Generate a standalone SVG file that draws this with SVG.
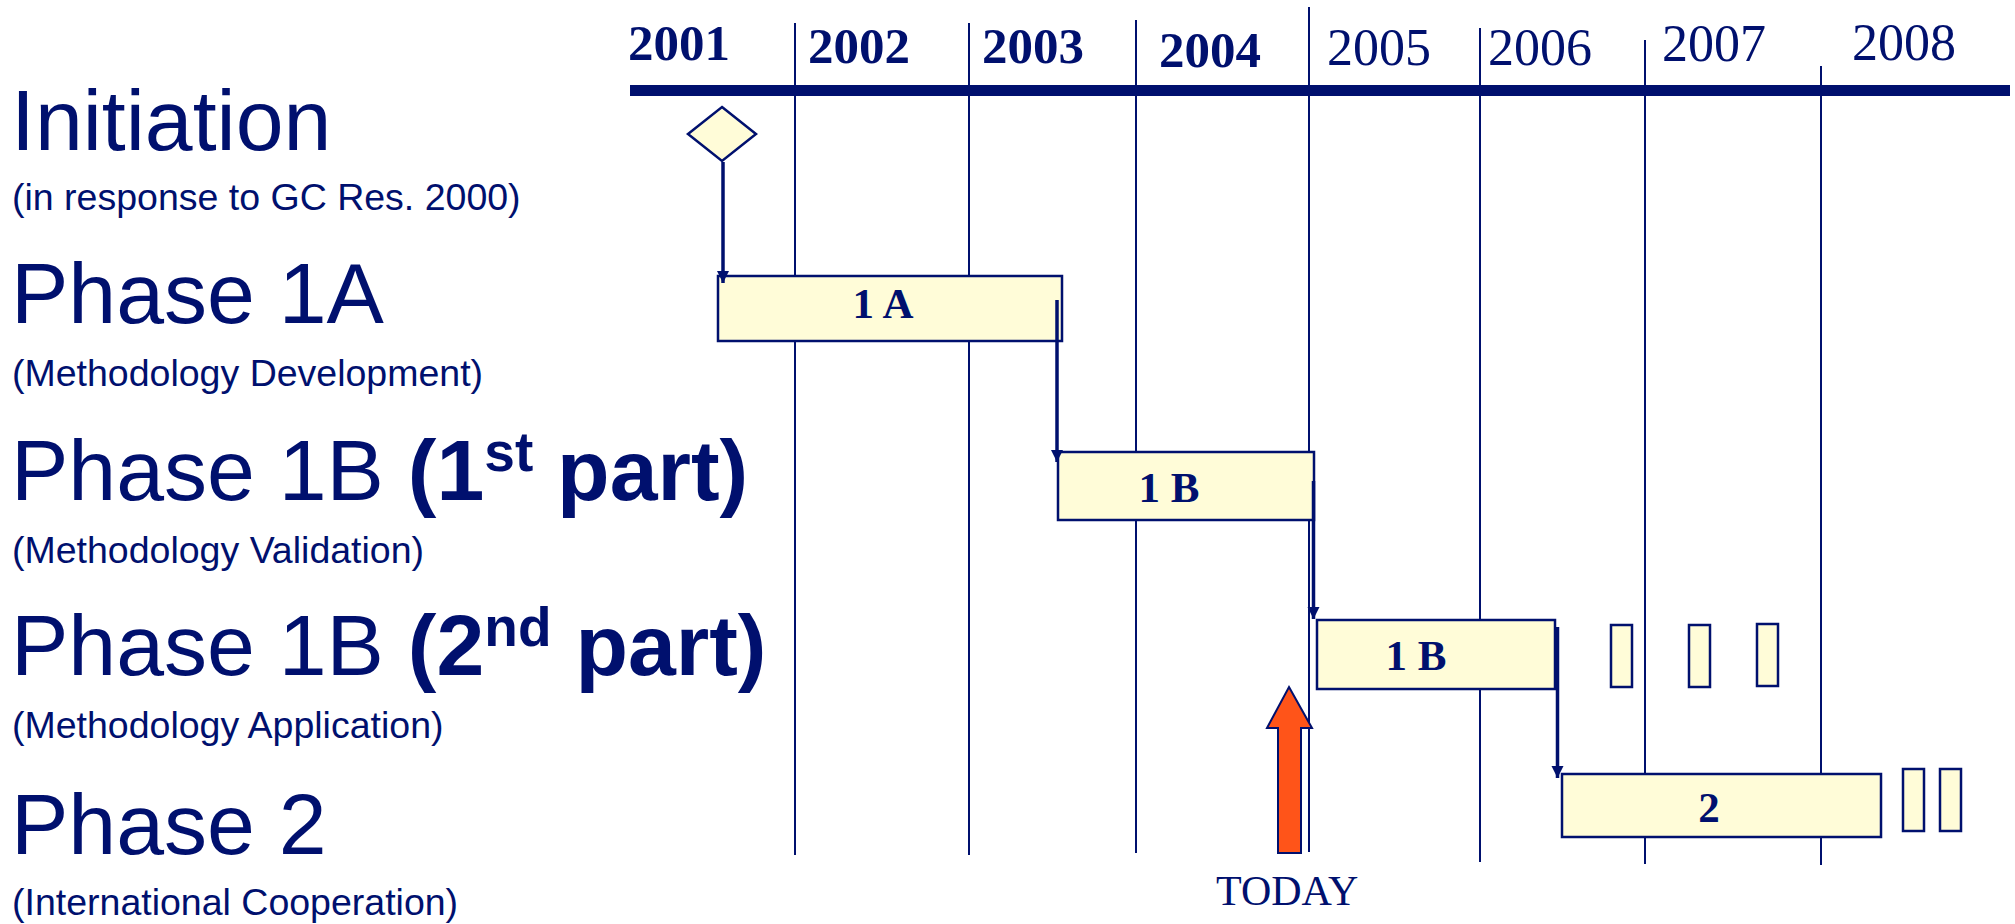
<svg xmlns="http://www.w3.org/2000/svg" width="2015" height="924" viewBox="0 0 2015 924">
  <style>
    .year-b { font-family: "Liberation Serif", "Times New Roman", serif; font-weight: bold; font-size: 51px; fill: #00106E; }
    .year-r { font-family: "Liberation Serif", "Times New Roman", serif; font-size: 52px; fill: #00106E; }
    .title { font-family: "Liberation Sans", Arial, sans-serif; font-size: 86px; fill: #00106E; }
    .sub { font-family: "Liberation Sans", Arial, sans-serif; font-size: 37.5px; fill: #00106E; }
    .bold { font-weight: bold; }
    .bar-label { font-family: "Liberation Serif", "Times New Roman", serif; font-weight: bold; font-size: 43px; fill: #00106E; text-anchor: middle; }
    .grid { stroke: #00106E; stroke-width: 2; }
    .bar { fill: #FFFCD8; stroke: #00106E; stroke-width: 2.5; }
    .link { stroke: #00106E; stroke-width: 3.5; fill: none; marker-end: url(#tip); }
  </style>
  <defs>
    <marker id="tip" markerUnits="userSpaceOnUse" markerWidth="14" markerHeight="14" refX="12" refY="6" orient="auto">
      <path d="M0,0 L12,6 L0,12 Z" fill="#00106E"/>
    </marker>
  </defs>

  <rect width="2015" height="924" fill="#FFFFFF"/>

  <!-- timeline: year grid lines, axis and year labels -->
  <g id="timeline">
    <line class="grid" x1="795" y1="23" x2="795" y2="855"/>
    <line class="grid" x1="969" y1="23" x2="969" y2="855"/>
    <line class="grid" x1="1136" y1="20" x2="1136" y2="853"/>
    <line class="grid" x1="1309" y1="7" x2="1309" y2="852"/>
    <line class="grid" x1="1480" y1="28" x2="1480" y2="862"/>
    <line class="grid" x1="1645" y1="40" x2="1645" y2="864"/>
    <line class="grid" x1="1821" y1="66" x2="1821" y2="865"/>
    <rect x="630" y="85" width="1380" height="11" fill="#00106E"/>
    <text class="year-b" x="628" y="60">2001</text>
    <text class="year-b" x="808" y="63">2002</text>
    <text class="year-b" x="982" y="63">2003</text>
    <text class="year-b" x="1159" y="67">2004</text>
    <text class="year-r" x="1327" y="65">2005</text>
    <text class="year-r" x="1488" y="65">2006</text>
    <text class="year-r" x="1662" y="61">2007</text>
    <text class="year-r" x="1852" y="60">2008</text>
  </g>

  <!-- row labels -->
  <g id="labels">
    <text class="title" x="11" y="150">Initiation</text>
    <text class="sub" x="12" y="210">(in response to GC Res. 2000)</text>
    <text class="title" x="11" y="323">Phase 1A</text>
    <text class="sub" x="12" y="386">(Methodology Development)</text>
    <text class="title" x="11" y="500">Phase 1B <tspan class="bold">(1</tspan><tspan class="bold" font-size="55" dy="-29">st</tspan><tspan class="bold" dy="29"> part)</tspan></text>
    <text class="sub" x="12" y="563">(Methodology Validation)</text>
    <text class="title" x="11" y="675">Phase 1B <tspan class="bold">(2</tspan><tspan class="bold" font-size="55" dy="-29">nd</tspan><tspan class="bold" dy="29"> part)</tspan></text>
    <text class="sub" x="12" y="738">(Methodology Application)</text>
    <text class="title" x="11" y="854">Phase 2</text>
    <text class="sub" x="12" y="915">(International Cooperation)</text>
  </g>

  <!-- milestone -->
  <g id="initiation">
    <polygon points="722,107 756,134 722,161 688,134" fill="#FFFCD8" stroke="#00106E" stroke-width="2.5"/>
  </g>

  <!-- phase bars -->
  <g id="phase-1a">
    <rect class="bar" x="718" y="276" width="344" height="65"/>
    <text class="bar-label" x="883" y="318">1 A</text>
  </g>
  <g id="phase-1b-part1">
    <rect class="bar" x="1058" y="452" width="256" height="68"/>
    <text class="bar-label" x="1169" y="502">1 B</text>
  </g>
  <g id="phase-1b-part2">
    <rect class="bar" x="1317" y="620" width="238" height="69"/>
    <text class="bar-label" x="1416" y="670">1 B</text>
    <rect class="bar" x="1611" y="625" width="21" height="62"/>
    <rect class="bar" x="1689" y="625" width="21" height="62"/>
    <rect class="bar" x="1757" y="624" width="21" height="62"/>
  </g>
  <g id="phase-2">
    <rect class="bar" x="1562" y="774" width="319" height="63"/>
    <text class="bar-label" x="1709" y="822">2</text>
    <rect class="bar" x="1903" y="769" width="21" height="62"/>
    <rect class="bar" x="1940" y="769" width="21" height="62"/>
  </g>

  <!-- today marker -->
  <g id="today">
    <polygon points="1289,687 1312,728 1301,728 1301,853 1278,853 1278,728 1267,728" fill="#FF5419" stroke="#00106E" stroke-width="2"/>
    <text x="1216" y="905" font-family="'Liberation Serif', 'Times New Roman', serif" font-size="42" fill="#00106E">TODAY</text>
  </g>

  <!-- dependency connectors -->
  <g id="connectors">
    <line class="link" x1="723" y1="162" x2="723" y2="283"/>
    <line class="link" x1="1057" y1="300" x2="1057" y2="462"/>
    <line class="link" x1="1313.5" y1="481" x2="1313.5" y2="619"/>
    <line class="link" x1="1557.5" y1="627" x2="1557.5" y2="778"/>
  </g>
</svg>
